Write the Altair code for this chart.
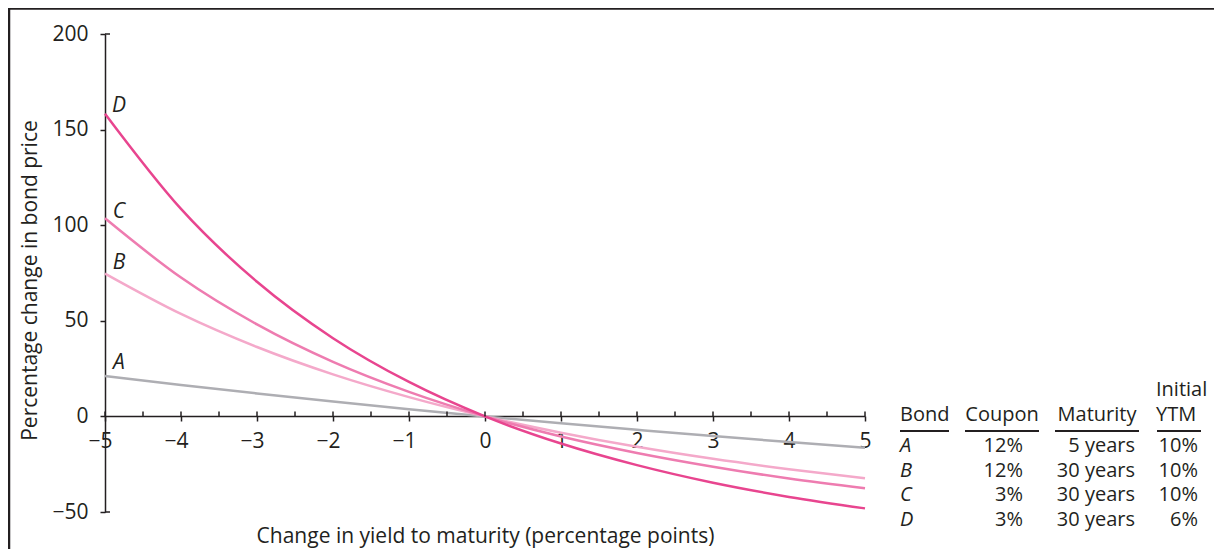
import altair as alt
import pandas as pd

# ---------------- data ----------------
shift = [-5, -4, -3, -2, -1, 0, 1, 2, 3, 4, 5]
bond_a = [21.1, 16.4, 12.0, 7.8, 3.8, 0.0, -3.6, -7.0, -10.3, -13.4, -16.4]
bond_b = [74.7, 53.6, 36.3, 22.0, 10.1, 0.0, -8.5, -15.9, -22.2, -27.6, -32.4]
bond_c = [103.6, 72.6, 48.1, 28.5, 12.8, 0.0, -10.5, -19.1, -26.3, -32.5, -37.6]
bond_d = [158.3, 108.5, 70.4, 40.9, 18.0, 0.0, -14.2, -25.5, -34.7, -42.1, -48.1]

bonds = ["A", "B", "C", "D"]
coupons = ["12%", "12%", "3%", "3%"]
maturities = ["5 years", "30 years", "30 years", "30 years"]
ytms = ["10%", "10%", "10%", "6%"]

x_ticks = [-5, -4.5, -4, -3.5, -3, -2.5, -2, -1.5, -1, -0.5, 0,
           0.5, 1, 1.5, 2, 2.5, 3, 3.5, 4, 4.5, 5]
y_ticks = [-50, 0, 50, 100, 150, 200]

# ---------------- styling ----------------
FONT = "Open Sans"
INK = "#231f20"
COLORS = ["#aeaeb3", "#f4a9ca", "#ee7cb0", "#e8458f"]
FS = 21
TFS = 20

series = {"A": bond_a, "B": bond_b, "C": bond_c, "D": bond_d}
rows = []
for b in bonds:
    for xv, yv in zip(shift, series[b]):
        rows.append({"shift": xv, "change": yv, "bond": b})
df = pd.DataFrame(rows)

x_scale = alt.Scale(domain=[-5, 5], nice=False, zero=False)
y_scale = alt.Scale(domain=[-50, 200], nice=False, zero=False)

label_expr = ("datum.value % 1 != 0 ? '' : (datum.value < 0 ? "
              "'\u2212' + abs(datum.value) : '' + datum.value)")

lines = alt.Chart(df).mark_line(strokeWidth=2.5, interpolate="monotone").encode(
    x=alt.X("shift:Q", scale=x_scale,
            axis=alt.Axis(values=x_ticks, labelExpr=label_expr, offset=-96,
                          tickSize=5, labelPadding=9, grid=False,
                          labelFlush=False, labelOverlap=False,
                          labelOffset={"condition": {"test": "datum.value < 0", "value": -5},
                                       "value": 0},
                          title="Change in yield to maturity (percentage points)",
                          titleY=126, titleBaseline="alphabetic")),
    y=alt.Y("change:Q", scale=y_scale,
            axis=alt.Axis(values=y_ticks, tickSize=5, labelPadding=12, grid=False,
                          labelOverlap=False,
                          title="Percentage change in bond price",
                          titleX=-75, titleY=246, titleBaseline="middle",
                          titleAlign="center", titleAngle=-90)),
    color=alt.Color("bond:N", scale=alt.Scale(domain=bonds, range=COLORS), legend=None),
)

# upward half of the crossing x ticks
tick_df = pd.DataFrame({"t": x_ticks})
up_ticks = alt.Chart(tick_df).mark_rule(color=INK, strokeWidth=1.5).encode(
    x=alt.X("t:Q", scale=x_scale),
    y=alt.datum(0),
    y2=alt.datum(2.5),
)

# caps at the ends of the y axis
cap_df = pd.DataFrame({"v": [y_ticks[0], y_ticks[-1]]})
caps = alt.Chart(cap_df).mark_rule(color=INK, strokeWidth=1.5).encode(
    x=alt.datum(-5, scale=x_scale),
    x2=alt.value(5),
    y=alt.Y("v:Q", scale=y_scale),
)

# curve labels
curve_label_dy = {"A": -13, "B": -11, "C": -6, "D": -8}
curve_labels = []
for b in bonds:
    curve_labels.append(
        alt.Chart(pd.DataFrame({"bond": [b], "x0": [shift[0]], "y0": [series[b][0]]}))
        .mark_text(font=FONT, fontSize=FS, fontStyle="italic", color=INK,
                   align="center", baseline="middle", dx=14, dy=curve_label_dy[b])
        .encode(x=alt.X("x0:Q", scale=x_scale), y=alt.Y("y0:Q", scale=y_scale),
                text="bond:N")
    )

# table at the right
tdf = pd.DataFrame({"bond": bonds, "coupon": coupons, "maturity": maturities,
                    "ytm": ytms, "row": list(range(4))})
tbase = alt.Chart(tdf).transform_calculate(py="412 + 24.5 * datum.row")


def col(field, xpix, align, italic=False):
    kw = dict(font=FONT, fontSize=TFS, color=INK, align=align, baseline="middle")
    if italic:
        kw["fontStyle"] = "italic"
    return tbase.mark_text(**kw).encode(
        x=alt.value(xpix), y=alt.Y("py:Q", scale=None, axis=None), text=f"{field}:N")


table_cols = [
    col("bond", 795, "left", italic=True),
    col("coupon", 918, "right"),
    col("maturity", 1030, "right"),
    col("ytm", 1093, "right"),
]

headers = [
    ("Bond", 795, 381, "left"),
    ("Coupon", 897, 381, "center"),
    ("Maturity", 992, 381, "center"),
    ("YTM", 1051, 381, "left"),
    ("Initial", 1051, 356, "left"),
]
header_layers = []
for txt, hx, hy, al in headers:
    header_layers.append(
        alt.Chart(pd.DataFrame({"h": [txt]})).mark_text(
            font=FONT, fontSize=TFS, color=INK, align=al, baseline="middle")
        .encode(x=alt.value(hx), y=alt.value(hy), text="h:N")
    )

underlines = []
for x1, x2 in [(795, 844), (860, 934), (950, 1034), (1052, 1096)]:
    underlines.append(
        alt.Chart(pd.DataFrame({"u": [0]})).mark_rule(color=INK, strokeWidth=2.2)
        .encode(x=alt.value(x1), x2=alt.value(x2), y=alt.value(397))
    )

# frame lines (top and left)
frame = [
    alt.Chart(pd.DataFrame({"f": [0]})).mark_rule(color=INK, strokeWidth=2.5)
    .encode(x=alt.value(-97), x2=alt.value(1120), y=alt.value(-25.5)),
    alt.Chart(pd.DataFrame({"f": [0]})).mark_rule(color=INK, strokeWidth=2.5)
    .encode(x=alt.value(-96), y=alt.value(-26), y2=alt.value(520)),
]

chart = alt.layer(
    lines, up_ticks, caps, *curve_labels, *table_cols, *header_layers,
    *underlines, *frame
).properties(
    width=760, height=478,
    autosize=alt.AutoSizeParams(type="none"),
    padding={"left": 97, "top": 26, "right": 349, "bottom": 37},
    background="white",
).configure_view(stroke=None).configure_axis(
    labelFont=FONT, labelFontSize=FS, labelColor=INK,
    titleFont=FONT, titleFontSize=FS, titleColor=INK, titleFontWeight="normal",
    domainColor=INK, domainWidth=1.5, tickColor=INK, tickWidth=1.5,
)

chart.save("out.html", embed_options={"renderer": "svg", "actions": False})
